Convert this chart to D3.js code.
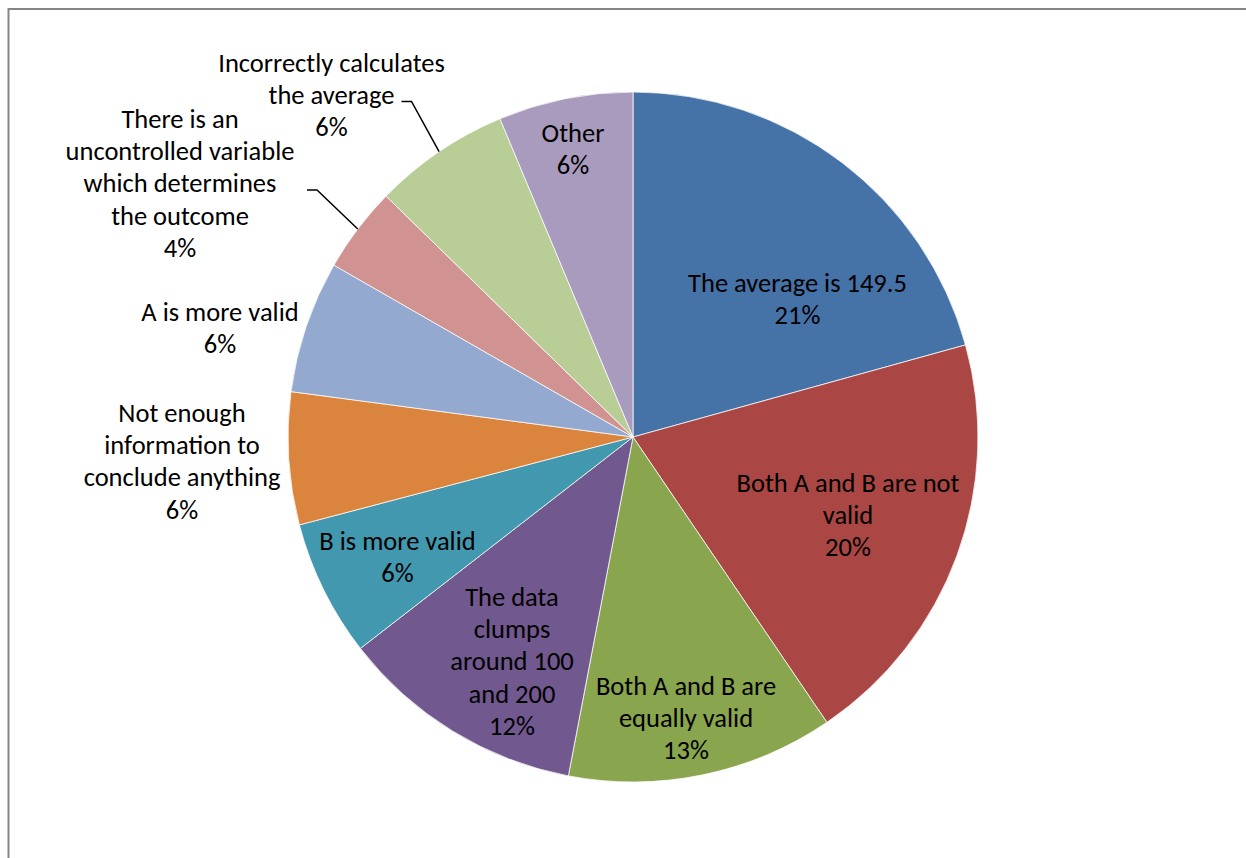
<!DOCTYPE html>
<html>
<head>
<meta charset="utf-8">
<script src="https://cdn.jsdelivr.net/npm/d3@7"></script>
<style>
  html, body { margin: 0; padding: 0; background: #fff; }
  svg { display: block; }
  text { font-family: Carlito, Lato, "Liberation Sans", sans-serif; fill: #000; }
</style>
</head>
<body>
<svg id="chart" width="1246" height="858"></svg>
<script>
// Answer categories, clockwise from 12 o'clock
const categories = [
  "The average is 149.5",
  "Both A and B are not valid",
  "Both A and B are equally valid",
  "The data clumps around 100 and 200",
  "B is more valid",
  "Not enough information to conclude anything",
  "A is more valid",
  "There is an uncontrolled variable which determines the outcome",
  "Incorrectly calculates the average",
  "Other"
];

// Share of responses (percent)
const shares = [20.7, 19.8, 12.5, 11.5, 6.4, 6.2, 6.2, 4.0, 6.4, 6.3];

// How each category name wraps inside its data label
const labelLines = [
  ["The average is 149.5"],
  ["Both A and B are not", "valid"],
  ["Both A and B are", "equally valid"],
  ["The data", "clumps", "around 100", "and 200"],
  ["B is more valid"],
  ["Not enough", "information to", "conclude anything"],
  ["A is more valid"],
  ["There is an", "uncontrolled variable", "which determines", "the outcome"],
  ["Incorrectly calculates", "the average"],
  ["Other"]
];

const colors = [
  "#4572A7", "#AA4643", "#89A54E", "#71588F", "#4198AF",
  "#DB843D", "#93A9CF", "#D19392", "#B9CD96", "#A99BBD"
];

// ---- layout ----
const W = 1246, H = 858;
const cx = 633, cy = 437, R = 345;
const fontSize = 26.5, lineGap = 32.3;

// Label block placement (centre of first line, relative to the pie centre)
// and, for outside labels, where the leader line starts.
const labelLayout = [
  { dx: 164.5, dy: -154 },
  { dx: 215,   dy: 46 },
  { dx: 53,    dy: 249 },
  { dx: -121,  dy: 160 },
  { dx: -235.5, dy: 104 },
  { dx: -451,  dy: -24 },
  { dx: -413,  dy: -125 },
  { dx: -453,  dy: -318, leader: { dx: -326, dy: -247 } },
  { dx: -301.5, dy: -374, leader: { dx: -231.5, dy: -335.5 } },
  { dx: -60,   dy: -304 }
];

const svg = d3.select("#chart");

// chart area frame (right and bottom edges run past the page)
svg.append("rect")
  .attr("x", 8.5).attr("y", 9)
  .attr("width", W).attr("height", H + 10)
  .attr("fill", "#fff")
  .attr("stroke", "#868686")
  .attr("stroke-width", 2);

const data = categories.map((c, i) => ({ name: c, value: shares[i], idx: i }));

const pie = d3.pie().value(d => d.value).sort(null);
const arcs = pie(data);
const arc = d3.arc().innerRadius(0).outerRadius(R);

const g = svg.append("g").attr("transform", `translate(${cx},${cy})`);

g.selectAll("path.slice")
  .data(arcs)
  .join("path")
  .attr("class", "slice")
  .attr("d", arc)
  .attr("fill", d => colors[d.data.idx])
  .attr("stroke", "rgba(255,255,255,0.75)")
  .attr("stroke-width", 1);

// leader lines for labels that sit outside the pie
arcs.forEach(a => {
  const lay = labelLayout[a.data.idx];
  if (!lay.leader) return;
  const ang = (a.startAngle + a.endAngle) / 2;
  const ex = R * Math.sin(ang), ey = -R * Math.cos(ang);
  const s = lay.leader;
  g.append("polyline")
    .attr("points", [[s.dx, s.dy], [s.dx + 10, s.dy], [ex, ey]].map(p => p.join(",")).join(" "))
    .attr("fill", "none")
    .attr("stroke", "#000")
    .attr("stroke-width", 1.5);
});

// data labels: category name + rounded percent
arcs.forEach(a => {
  const i = a.data.idx;
  const lay = labelLayout[i];
  const lines = labelLines[i].concat([Math.round(a.data.value) + "%"]);
  const t = g.append("text")
    .attr("text-anchor", "middle")
    .attr("font-size", fontSize);
  lines.forEach((ln, k) => {
    t.append("tspan")
      .attr("x", lay.dx)
      .attr("y", lay.dy + k * lineGap + fontSize * 0.33)
      .text(ln);
  });
});
</script>
</body>
</html>
